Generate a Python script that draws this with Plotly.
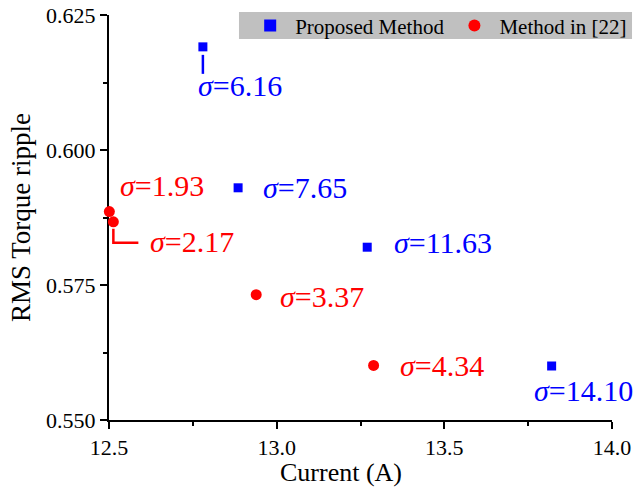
import plotly.graph_objects as go

# ---- data ----
prop_current = [12.78, 12.885, 13.27, 13.82]
prop_ripple = [0.6191, 0.5930, 0.5820, 0.5600]
prop_sigma = ["6.16", "7.65", "11.63", "14.10"]

ref_current = [12.501, 12.513, 12.939, 13.289]
ref_ripple = [0.5886, 0.5867, 0.5732, 0.5601]
ref_sigma = ["1.93", "2.17", "3.37", "4.34"]

x_ticks = [12.5, 13.0, 13.5, 14.0]
y_ticks = [0.550, 0.575, 0.600, 0.625]

# label offsets in pixels (dx, dy) relative to each point (dy positive = up)
prop_offsets = [(-7, -39), (23, 0), (25, 5), (-20, -24)]
ref_offsets = [(9, 26), (35, -20), (22, -2), (24, 0)]

BLUE = "#0000ff"
RED = "#ff0000"
FONT = "Liberation Serif"

fig = go.Figure()
fig.add_trace(go.Scatter(
    x=prop_current, y=prop_ripple, mode="markers", name="Proposed Method",
    marker=dict(symbol="square", size=9, color=BLUE), cliponaxis=False))
fig.add_trace(go.Scatter(
    x=ref_current, y=ref_ripple, mode="markers", name="Method in [22]",
    marker=dict(symbol="circle", size=11, color=RED), cliponaxis=False))

annotations = []
for xs, ys, labels, offs, col in [
    (prop_current, prop_ripple, prop_sigma, prop_offsets, BLUE),
    (ref_current, ref_ripple, ref_sigma, ref_offsets, RED),
]:
    for x, y, lab, (dx, dy) in zip(xs, ys, labels, offs):
        annotations.append(dict(
            x=x, y=y, xref="x", yref="y", text="<i>σ</i>=" + lab,
            showarrow=False, xanchor="left", yanchor="middle",
            xshift=dx, yshift=dy, font=dict(family=FONT, size=30, color=col)))

# x axis title (slightly left of centre, as in the original)
annotations.append(dict(
    x=0.462, y=0, xref="paper", yref="paper", text="Current (A)",
    showarrow=False, xanchor="center", yanchor="middle", yshift=-52,
    font=dict(family=FONT, size=26, color="black")))

shapes = [
    # grey legend background
    dict(type="rect", xref="paper", yref="paper", x0=0.2584, x1=1.0398,
         y0=0.9407, y1=1.0074, fillcolor="#c0c0c0", line=dict(width=0),
         layer="below"),
    # leader for sigma=6.16
    dict(type="path", xref="x", yref="y", xsizemode="pixel", ysizemode="pixel",
         xanchor=prop_current[0], yanchor=prop_ripple[0],
         path="M 0 -8 L 0 -27", line=dict(color=BLUE, width=2.5)),
    # leader for sigma=2.17
    dict(type="path", xref="x", yref="y", xsizemode="pixel", ysizemode="pixel",
         xanchor=ref_current[1], yanchor=ref_ripple[1],
         path="M 0 -7 L 0 -21 L 25 -21", line=dict(color=RED, width=2.5)),
]

fig.update_layout(
    width=636, height=489,
    margin=dict(l=109, r=24, t=15, b=69, autoexpand=False),
    paper_bgcolor="white", plot_bgcolor="white",
    font=dict(family=FONT, color="black"),
    annotations=annotations, shapes=shapes,
    showlegend=True,
    legend=dict(orientation="h", xref="container", yref="container",
                x=0.994, xanchor="right", y=0.989, yanchor="top",
                bgcolor="rgba(0,0,0,0)", font=dict(family=FONT, size=21),
                itemwidth=40, itemsizing="constant"),
    xaxis=dict(range=[12.5, 14.0], tickvals=x_ticks, tickformat=".1f",
               showgrid=False, zeroline=False, showline=True, linecolor="black",
               linewidth=2, ticks="outside", ticklen=7, tickwidth=1.5,
               tickcolor="black", tickfont=dict(size=22),
               minor=dict(ticks="outside", ticklen=4, tickwidth=1.5,
                          tickcolor="black", dtick=0.25, showgrid=False),
               layer="below traces"),
    yaxis=dict(range=[0.550, 0.625], tickvals=y_ticks, tickformat=".3f",
               showgrid=False, zeroline=False, showline=True, linecolor="black",
               linewidth=2, ticks="outside", ticklen=7, tickwidth=1.5,
               tickcolor="black", tickfont=dict(size=22),
               minor=dict(ticks="outside", ticklen=4, tickwidth=1.5,
                          tickcolor="black", dtick=0.0125, showgrid=False),
               title=dict(text="RMS Torque ripple", font=dict(size=27), standoff=8),
               layer="below traces"),
)

fig.write_html("out.html")
